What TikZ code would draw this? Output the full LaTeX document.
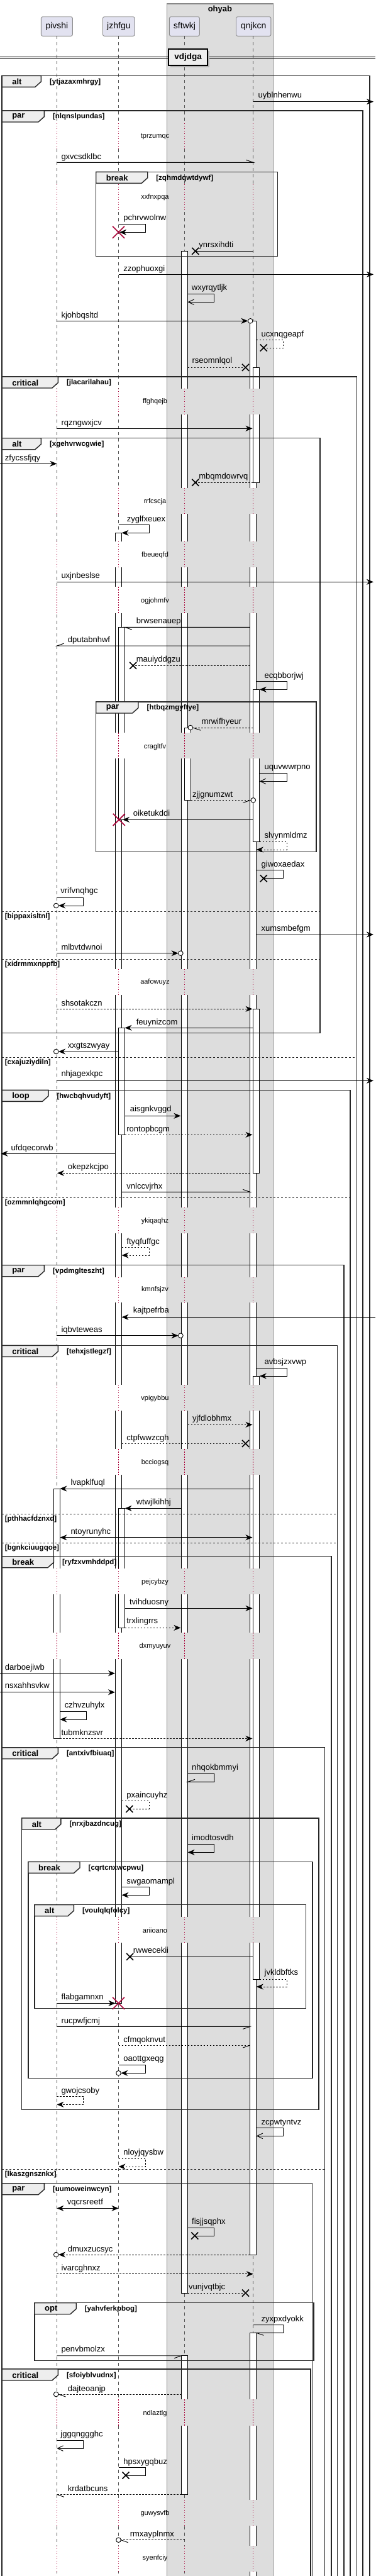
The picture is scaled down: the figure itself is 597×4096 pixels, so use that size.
\documentclass[tikz,border=0pt]{standalone}
\usepackage{fontspec}
\setmainfont{Liberation Sans}
\usetikzlibrary{arrows.meta}
\definecolor{grpfill}{HTML}{DDDDDD}
\definecolor{grpline}{HTML}{888888}
\definecolor{partfill}{HTML}{E2E2F0}
\definecolor{partline}{HTML}{8C8C8C}
\definecolor{tabfill}{HTML}{EEEEEE}
\definecolor{dkred}{HTML}{A80036}
\definecolor{lifecol}{HTML}{555555}
\newcommand\SeqFrame[8]{%
  \draw[frm] (#1,#2) rectangle (#3,#4);
  \draw[frm,fill=tabfill] (#1,#2) -- (#5,#2) -- (#5,{#2+9.5}) -- ({#5-9.5},{#2+18}) -- (#1,{#2+18}) -- cycle;
  \node[kw] (#8k) at ({#1+16},{#2+9.5}) {#6};
  \node[cnd] (#8c) at ({#5+13.5},{#2+10}) {[#7]};
}
\newcommand\SeqElse[5]{%
  \draw[els] (#1,#3) -- (#2,#3);
  \node[cnd] (#5) at ({#1+4.5},{#3+8.5}) {[#4]};
}
\newcommand\Xmark[4]{\draw[line width=1.6pt,#4] ({#1-#3},{#2-#3}) -- ({#1+#3},{#2+#3}) ({#1-#3},{#2+#3}) -- ({#1+#3},{#2-#3});}
\newcommand\Ocirc[2]{\draw[msg,fill=white] (#1,#2) circle[radius=3.8];}
\begin{document}
\begin{tikzpicture}[x=1pt,y=-1pt,
 part/.style={draw=partline, fill=partfill, rounded corners=2.5pt, line width=0.9pt, inner sep=0pt, minimum height=30.6pt, font=\fontsize{14}{16}\selectfont},
 life/.style={draw=lifecol, line width=0.7pt, dash pattern=on 5pt off 5pt},
 dlyline/.style={draw=dkred, line width=0.8pt, dash pattern=on 1.2pt off 2.8pt},
 actbar/.style={draw=black, fill=white, line width=0.9pt},
 frm/.style={draw=black!85, line width=1.4pt},
 els/.style={draw=black!85, line width=0.8pt, dash pattern=on 3pt off 3pt},
 kw/.style={font=\bfseries\fontsize{13}{15}\selectfont, anchor=west, inner sep=0pt},
 cnd/.style={font=\bfseries\fontsize{11.5}{13}\selectfont, anchor=west, inner sep=0pt},
 lbl/.style={font=\fontsize{13}{15}\selectfont, anchor=west, inner sep=0pt, text height=9.4pt, text depth=2.8pt},
 dtxt/.style={font=\fontsize{11}{13}\selectfont, inner sep=0pt},
 msg/.style={draw=black, line width=0.9pt},
 dsh/.style={msg, dash pattern=on 2.5pt off 2.5pt},
 arr/.style={-{Stealth[length=11pt,width=9pt,inset=3.5pt]}},
 arrtwo/.style={{Stealth[length=11pt,width=9pt,inset=3.5pt]}-{Stealth[length=11pt,width=9pt,inset=3.5pt]}},
 opn/.style={-{Straight Barb[length=9pt,width=8.5pt]}}
]
\useasboundingbox (0,0) rectangle (597,4096);
\fill[white] (0,0) rectangle (597,4096);
% group box
\draw[draw=grpline, fill=grpfill, line width=1.2pt] (265.1,6) rectangle (434.7,4110);
\node[font=\bfseries\fontsize{13}{15}\selectfont] (grp) at (349.9,15) {ohyab};
% participants
\node[part, minimum width=50pt] (pivshi) at (90.4,42) {pivshi};
\node[part, minimum width=50.8pt] (jzhfgu) at (188.9,42) {jzhfgu};
\node[part, minimum width=48pt] (sftwkj) at (293.4,42) {sftwkj};
\node[part, minimum width=55.4pt] (qnjkcn) at (403.2,42) {qnjkcn};
\coordinate (pE) at (90.4,4110); \coordinate (jE) at (188.5,4110);
\coordinate (sE) at (293.5,4110); \coordinate (qE) at (402.8,4110);
\coordinate (pS) at (90.4,57.3); \coordinate (jS) at (188.5,57.3);
\coordinate (sS) at (293.5,57.3); \coordinate (qS) at (402.8,57.3);
\draw[life] (pS) -- (pE); \draw[life] (jS) -- (jE);
\draw[life] (sS) -- (sE); \draw[life] (qS) -- (qE);
% divider
\draw[black, line width=0.9pt] (0,90) -- (597,90) (0,93) -- (597,93);
\fill[black!30] (270.6,80.5) rectangle (332.5,106.5);
\node[draw=black, line width=1.4pt, fill=tabfill, minimum width=61.9pt, minimum height=26pt, inner sep=0pt, font=\bfseries\fontsize{13.5}{15}\selectfont] (div) at (299.05,91) {vdjdga};
% activation bars
\draw[actbar] (85.4,2367) rectangle (95.4,2764.3);
\draw[actbar] (183.5,847.3) rectangle (193.5,3185.3);
\draw[actbar] (188.5,997.3) rectangle (198.5,1303.3);
\draw[actbar] (188.5,1634.3) rectangle (198.5,1804.3);
\draw[actbar] (188.5,2398.3) rectangle (198.5,2588.3);
\draw[actbar] (288.5,399.3) rectangle (298.5,3646);
\draw[actbar] (288.5,3745.7) rectangle (298.5,3966.3);
\draw[actbar] (293.5,1157) rectangle (303.5,1272.3);
\draw[actbar] (397.8,510.3) rectangle (407.8,3585);
\draw[actbar] (397.8,3709.3) rectangle (407.8,4110);
\draw[actbar] (402.8,584.3) rectangle (412.8,767.3);
\draw[actbar] (402.8,1096.3) rectangle (412.8,1338.3);
\draw[actbar] (402.8,1604.3) rectangle (412.8,1865.3);
\draw[actbar] (402.8,2188) rectangle (412.8,3147.3);
% delays
\foreach \ya/\yb/\yc/\tx [count=\i] in {196/237/216.7/tprzumqc, 292.5/334/313.3/xxfnxpqa, 617.7/659.3/638.7/ffghqejb, 775.7/817.3/797.3/rrfcscja, 860.7/902.3/882.3/fbeueqfd, 933.3/975/955.7/ogjohmfv, 1165.3/1206/1187.7/cragltfv, 1540.7/1582.3/1562/aafowuyz, 1920/1960.7/1941.3/ykiqaqhz, 2030.7/2071/2051/kmnfsjzv, 2202/2243/2223.7/vpigybbu, 2304.3/2345.3/2325.3/bcciogsq, 2494/2535/2515.7/pejcybzy, 2596.3/2638/2618/dxmyuyuv, 3047.7/3089/3069.3/ariioano, 3815.3/3857.3/3837.3/ndlaztlg, 3974.7/4016.3/3996.3/guwysvfb, 4047.7/4088.7/4068/syenfciy}{
  \fill[white] (83,\ya) rectangle (98.5,\yb);
  \fill[white] (181,\ya) rectangle (201,\yb);
  \fill[grpfill] (286,\ya) rectangle (306,\yb);
  \fill[grpfill] (395,\ya) rectangle (415.5,\yb);
  \draw[dlyline] (90.4,\ya) -- (90.4,\yb);
  \draw[dlyline] (188.5,\ya) -- (188.5,\yb);
  \draw[dlyline] (293.5,\ya) -- (293.5,\yb);
  \draw[dlyline] (402.8,\ya) -- (402.8,\yb);
  \node[dtxt] (dl\i) at (246.5,\yc) {\tx};
}
% frames
\SeqFrame{3.1}{120.3}{587.8}{4110}{65.4}{alt}{ytjazaxmhrgy}{fa}
\SeqFrame{3.1}{176}{577}{4110}{70.4}{par}{nlqnslpundas}{fb}
\SeqFrame{152.7}{273.3}{441.2}{407.7}{234.7}{break}{zqhmdqwtdywf}{fc}
\SeqFrame{3.1}{599}{567.4}{4110}{92.3}{critical}{jlacarilahau}{fd}
\SeqElse{3.1}{567.4}{1681.3}{cxajuziydiln}{ed}
\SeqFrame{3.1}{696.7}{508.9}{1642.7}{65.4}{alt}{xgehvrwcgwie}{fe}
\SeqElse{3.1}{508.9}{1449}{bippaxisltnl}{eea}
\SeqElse{3.1}{508.9}{1525.3}{xidrmmxnppfb}{eeb}
\SeqFrame{152.7}{1116}{502.8}{1354.3}{220}{par}{htbqzmgyftye}{ff}
\SeqFrame{3.1}{1733.3}{557}{4110}{76.9}{loop}{hwcbqhvudyft}{fg}
\SeqElse{3.1}{557}{1904.3}{ozmmnlqhgcom}{eg}
\SeqFrame{3.1}{2011.7}{547}{4110}{70.4}{par}{vpdmglteszht}{fh}
\SeqFrame{3.1}{2139.3}{536.6}{4110}{92.3}{critical}{tehxjstlegzf}{fi}
\SeqElse{3.1}{536.6}{2407.3}{pthhacfdznxd}{eia}
\SeqElse{3.1}{536.6}{2453.3}{bgnkciuugqoe}{eib}
\SeqFrame{3.1}{2474.7}{527}{4110}{85.4}{break}{ryfzxvmhddpd}{fj}
\SeqFrame{3.1}{2778.7}{516.3}{4110}{92.3}{critical}{antxivfbiuaq}{fk}
\SeqElse{3.1}{516.3}{3449}{lkaszgnsznkx}{ek}
\SeqFrame{34.6}{2891}{507}{3354.3}{96.9}{alt}{nrxjbazdncug}{fl}
\SeqFrame{45}{2960.3}{497}{3304.7}{127}{break}{cqrtcnxwcpwu}{fm}
\SeqFrame{55}{3028.7}{486.6}{3193.7}{117.3}{alt}{voulqlqfolcy}{fn}
\SeqFrame{3.1}{3471.7}{496.2}{4110}{70.4}{par}{uumoweinwcyn}{fo}
\SeqFrame{55}{3661.7}{499}{3753.3}{121.2}{opt}{yahvferkpbog}{fp}
\SeqFrame{3.1}{3767}{494}{4110}{92.3}{critical}{sfoiyblvudnx}{fq}
% messages
\coordinate (m1a) at (402.8,161.7); \coordinate (m1b) at (594,161.7);
\draw[msg,arr] (m1a) -- (m1b); \node[lbl] (t1) at (410.5,151.7) {uyblnhenwu};
\coordinate (m2a) at (90.4,258.3); \coordinate (m2b) at (402.8,258.3);
\draw[msg] (m2a) -- (m2b) -- ++(-11.5,-4); \node[lbl] (t2) at (97.3,250) {gxvcsdklbc};
\coordinate (m3a) at (188.5,356.3); \coordinate (m3b) at (190,369.3);
\draw[msg,arr] (m3a) -- (231.6,356.3) |- (m3b); \Xmark{188.5}{369.3}{9.5}{dkred}
\node[lbl] (t3) at (196.2,347) {pchrvwolnw};
\coordinate (m4a) at (402.8,399.3); \coordinate (m4b) at (310.8,399.3);
\draw[msg] (m4a) -- (m4b); \Xmark{310.8}{399.3}{5.5}{black}
\node[lbl] (t4) at (316.2,390) {ynrsxihdti};
\coordinate (m5a) at (188.5,436.3); \coordinate (m5b) at (594,436.3);
\draw[msg,arr] (m5a) -- (m5b); \node[lbl] (t5) at (196.2,427.7) {zzophuoxgi};
\coordinate (m6a) at (298.5,467.7); \coordinate (m6b) at (298.5,480.3);
\draw[msg,opn] (m6a) -- (340.8,467.7) |- (m6b); \node[lbl] (t6) at (304.7,457.7) {wxyrqytljk};
\coordinate (m7a) at (90.4,510.3); \coordinate (m7b) at (394.4,510.3);
\draw[msg,arr] (m7a) -- (m7b); \Ocirc{398.2}{510.3} \node[lbl] (t7) at (97.3,502) {kjohbqsltd};
\coordinate (m8a) at (407.8,540.7); \coordinate (m8b) at (419.3,553);
\draw[dsh] (m8a) -- (450.9,540.7) |- (m8b); \Xmark{419.3}{553}{5.5}{black}
\node[lbl] (t8) at (415.5,532) {ucxnqgeapf};
\coordinate (m9a) at (298.5,584.3); \coordinate (m9b) at (390.5,584.3);
\draw[dsh] (m9a) -- (m9b); \Xmark{390.5}{584.3}{5.5}{black}
\node[lbl] (t9) at (305.4,574.3) {rseomnlqol};
\coordinate (m10a) at (90.4,681.3); \coordinate (m10b) at (401.5,681.3);
\draw[msg,arr] (m10a) -- (m10b); \node[lbl] (t10) at (97.3,673) {rqzngwxjcv};
\coordinate (m11a) at (0,737.3); \coordinate (m11b) at (90.4,737.3);
\draw[msg,arr] (m11a) -- (m11b); \node[lbl] (t11) at (7.7,729) {zfycssfjqy};
\coordinate (m12a) at (402.8,767.3); \coordinate (m12b) at (310.8,767.3);
\draw[dsh] (m12a) -- (m12b); \Xmark{310.8}{767.3}{5.5}{black}
\node[lbl] (t12) at (316.2,758) {mbqmdowrvq};
\coordinate (m13a) at (188.5,834.7); \coordinate (m13b) at (193.5,847.3);
\draw[msg,arr] (m13a) -- (237,834.7) |- (m13b); \node[lbl] (t13) at (201.6,825.7) {zyglfxeuex};
\coordinate (m14a) at (90.4,925.3); \coordinate (m14b) at (594,925.3);
\draw[msg,arr] (m14a) -- (m14b); \node[lbl] (t14) at (97.3,915.7) {uxjnbeslse};
\coordinate (m15a) at (397.8,997.3); \coordinate (m15b) at (198.5,997.3);
\draw[msg] (m15a) -- (m15b) -- ++(11.5,4); \node[lbl] (t15) at (216.6,988.3) {brwsenauep};
\coordinate (m16a) at (397.8,1027); \coordinate (m16b) at (90.4,1027);
\draw[msg] (m16a) -- (m16b) -- ++(11.5,-4); \node[lbl] (t16) at (107.7,1018.3) {dputabnhwf};
\coordinate (m17a) at (397.8,1058.3); \coordinate (m17b) at (211.6,1058.3);
\draw[dsh] (m17a) -- (m17b); \Xmark{211.6}{1058.3}{5.5}{black}
\node[lbl] (t17) at (216.6,1048.7) {mauiyddgzu};
\coordinate (m18a) at (407.8,1083.7); \coordinate (m18b) at (412.8,1096.3);
\draw[msg,arr] (m18a) -- (456.2,1083.7) |- (m18b); \node[lbl] (t18) at (420.5,1075) {ecqbborjwj};
\coordinate (m19a) at (402.8,1157); \coordinate (m19b) at (306.6,1157);
\draw[dsh] (m19a) -- (m19b); \Ocirc{302.8}{1157} \draw[msg] (m19b) -- ++(12.5,4.3);
\node[lbl] (t19) at (320.5,1147.7) {mrwifhyeur};
\coordinate (m20a) at (412.8,1229.7); \coordinate (m20b) at (412.8,1242.3);
\draw[msg,opn] (m20a) -- (456.2,1229.7) |- (m20b); \node[lbl] (t20) at (420.5,1220) {uquvwwrpno};
\coordinate (m21a) at (303.5,1272.3); \coordinate (m21b) at (399,1272.3);
\draw[dsh] (m21a) -- (m21b); \Ocirc{402.8}{1272.3} \draw[msg] (m21b) -- ++(-12.5,4);
\node[lbl] (t21) at (305.8,1263.7) {zjjgnumzwt};
\coordinate (m22a) at (402.8,1303.3); \coordinate (m22b) at (195,1303.3);
\draw[msg,arr] (m22a) -- (m22b); \Xmark{189.3}{1303.3}{9.5}{dkred}
\node[lbl] (t22) at (211.6,1293.7) {oiketukddi};
\coordinate (m23a) at (412.8,1338.3); \coordinate (m23b) at (407.8,1351);
\draw[dsh,arr] (m23a) -- (456.2,1338.3) |- (m23b); \node[lbl] (t23) at (420.5,1329.3) {slvynmldmz};
\coordinate (m24a) at (407.8,1383.7); \coordinate (m24b) at (419.3,1396.7);
\draw[msg] (m24a) -- (450.9,1383.7) |- (m24b); \Xmark{419.3}{1396.7}{5.5}{black}
\node[lbl] (t24) at (415.5,1374.7) {giwoxaedax};
\coordinate (m25a) at (90.4,1427.3); \coordinate (m25b) at (93,1440);
\draw[msg,arr] (m25a) -- (132.7,1427.3) |- (m25b); \Ocirc{89.2}{1440}
\node[lbl] (t25) at (96.2,1417.3) {vrifvnqhgc};
\coordinate (m26a) at (407.8,1486); \coordinate (m26b) at (594,1486);
\draw[msg,arr] (m26a) -- (m26b); \node[lbl] (t26) at (415.5,1476.7) {xumsmbefgm};
\coordinate (m27a) at (90.4,1515.7); \coordinate (m27b) at (283.6,1515.7);
\draw[msg,arr] (m27a) -- (m27b); \Ocirc{287.4}{1515.7} \node[lbl] (t27) at (97.3,1507.3) {mlbvtdwnoi};
\coordinate (m28a) at (90.4,1604.3); \coordinate (m28b) at (401.5,1604.3);
\draw[dsh,arr] (m28a) -- (m28b); \node[lbl] (t28) at (97.3,1595.7) {shsotakczn};
\coordinate (m29a) at (402.8,1634.3); \coordinate (m29b) at (198.5,1634.3);
\draw[msg,arr] (m29a) -- (m29b); \node[lbl] (t29) at (216.6,1625.7) {feuynizcom};
\coordinate (m30a) at (188.5,1672); \coordinate (m30b) at (93,1672);
\draw[msg,arr] (m30a) -- (m30b); \Ocirc{89.2}{1672} \node[lbl] (t30) at (107.7,1663) {xxgtszwyay};
\coordinate (m31a) at (90.4,1718.3); \coordinate (m31b) at (594,1718.3);
\draw[msg,arr] (m31a) -- (m31b); \node[lbl] (t31) at (97.3,1708) {nhjagexkpc};
\coordinate (m32a) at (198.5,1774.3); \coordinate (m32b) at (287.4,1774.3);
\draw[msg,arr] (m32a) -- (m32b); \node[lbl] (t32) at (206.6,1764.3) {aisgnkvggd};
\coordinate (m33a) at (198.5,1804.3); \coordinate (m33b) at (401.5,1804.3);
\draw[dsh,arr] (m33a) -- (m33b); \node[lbl] (t33) at (201.2,1795.7) {rontopbcgm};
\coordinate (m34a) at (183.5,1834.3); \coordinate (m34b) at (1.5,1834.3);
\draw[msg,arr] (m34a) -- (m34b); \node[lbl] (t34) at (17.3,1825.7) {ufdqecorwb};
\coordinate (m35a) at (397.8,1865.3); \coordinate (m35b) at (91,1865.3);
\draw[dsh,arr] (m35a) -- (m35b); \node[lbl] (t35) at (107.7,1855.7) {okepzkcjpo};
\coordinate (m36a) at (193.5,1895.3); \coordinate (m36b) at (397.8,1895.3);
\draw[msg] (m36a) -- (m36b) -- ++(-11.5,-4); \node[lbl] (t36) at (201.2,1886.7) {vnlccvjrhx};
\coordinate (m37a) at (193.5,1983.3); \coordinate (m37b) at (193.5,1996);
\draw[dsh,arr] (m37a) -- (237,1983.3) |- (m37b); \node[lbl] (t37) at (201.2,1975) {ftyqfuffgc};
\coordinate (m38a) at (597,2094.3); \coordinate (m38b) at (193.5,2094.3);
\draw[msg,arr] (m38a) -- (m38b); \node[lbl] (t38) at (211.6,2084.3) {kajtpefrba};
\coordinate (m39a) at (90.4,2123.7); \coordinate (m39b) at (283.6,2123.7);
\draw[msg,arr] (m39a) -- (m39b); \Ocirc{287.4}{2123.7} \node[lbl] (t39) at (97.3,2115.3) {iqbvteweas};
\coordinate (m40a) at (407.8,2175.3); \coordinate (m40b) at (412.8,2188);
\draw[msg,arr] (m40a) -- (456.2,2175.3) |- (m40b); \node[lbl] (t40) at (420.5,2166) {avbsjzxvwp};
\coordinate (m41a) at (298.5,2265.3); \coordinate (m41b) at (401.5,2265.3);
\draw[dsh,arr] (m41a) -- (m41b); \node[lbl] (t41) at (305.8,2256.3) {yjfdlobhmx};
\coordinate (m42a) at (193.5,2295.3); \coordinate (m42b) at (390.5,2295.3);
\draw[dsh] (m42a) -- (m42b); \Xmark{390.5}{2295.3}{5.5}{black}
\node[lbl] (t42) at (201.2,2287) {ctpfwwzcgh};
\coordinate (m43a) at (402.8,2367); \coordinate (m43b) at (95.4,2367);
\draw[msg,arr] (m43a) -- (m43b); \node[lbl] (t43) at (112.3,2358) {lvapklfuql};
\coordinate (m44a) at (288.5,2398.3); \coordinate (m44b) at (198.5,2398.3);
\draw[msg,arr] (m44a) -- (m44b); \node[lbl] (t44) at (216.6,2388.7) {wtwjlkihhj};
\coordinate (m45a) at (95.4,2444.7); \coordinate (m45b) at (401.5,2444.7);
\draw[msg,arrtwo] (m45a) -- (m45b); \node[lbl] (t45) at (112.3,2435.7) {ntoyrunyhc};
\coordinate (m46a) at (198.5,2557.3); \coordinate (m46b) at (401.5,2557.3);
\draw[msg,arr] (m46a) -- (m46b); \node[lbl] (t46) at (205.8,2548.3) {tvihduosny};
\coordinate (m47a) at (198.5,2588.3); \coordinate (m47b) at (287.4,2588.3);
\draw[dsh,arr] (m47a) -- (m47b); \node[lbl] (t47) at (201.2,2578.3) {trxlingrrs};
\coordinate (m48a) at (0,2660.7); \coordinate (m48b) at (183,2660.7);
\draw[msg,arr] (m48a) -- (m48b); \node[lbl] (t48) at (7.7,2651.7) {darboejiwb};
\coordinate (m49a) at (0,2690.7); \coordinate (m49b) at (183,2690.7);
\draw[msg,arr] (m49a) -- (m49b); \node[lbl] (t49) at (7.7,2681.3) {nsxahhsvkw};
\coordinate (m50a) at (95.4,2721.7); \coordinate (m50b) at (95.4,2734);
\draw[msg,arr] (m50a) -- (137.7,2721.7) |- (m50b); \node[lbl] (t50) at (102.7,2711.7) {czhvzuhylx};
\coordinate (m51a) at (95.4,2764.3); \coordinate (m51b) at (401.5,2764.3);
\draw[dsh,arr] (m51a) -- (m51b); \node[lbl] (t51) at (97.3,2756) {tubmknzsvr};
\coordinate (m52a) at (298.5,2820.3); \coordinate (m52b) at (298.5,2833.3);
\draw[msg] (m52a) -- (340.8,2820.3) |- (m52b) -- ++(11.5,-4); \node[lbl] (t52) at (305,2811) {nhqokbmmyi};
\coordinate (m53a) at (193.5,2863.3); \coordinate (m53b) at (205.8,2876.3);
\draw[dsh] (m53a) -- (237,2863.3) |- (m53b); \Xmark{205.8}{2876.3}{5.5}{black}
\node[lbl] (t53) at (201.2,2854.7) {pxaincuyhz};
\coordinate (m54a) at (298.5,2932.7); \coordinate (m54b) at (298.5,2945.3);
\draw[msg,arr] (m54a) -- (340.8,2932.7) |- (m54b); \node[lbl] (t54) at (305,2922.7) {imodtosvdh};
\coordinate (m55a) at (193.5,3000.7); \coordinate (m55b) at (193.5,3013.3);
\draw[msg,arr] (m55a) -- (237,3000.7) |- (m55b); \node[lbl] (t55) at (201.2,2992) {swgaomampl};
\coordinate (m56a) at (402.8,3111.3); \coordinate (m56b) at (206.6,3111.3);
\draw[msg] (m56a) -- (m56b); \Xmark{206.6}{3111.3}{5.5}{black}
\node[lbl] (t56) at (211.6,3102) {rwwecekii};
\coordinate (m57a) at (412.8,3147); \coordinate (m57b) at (407.8,3159);
\draw[dsh,arr] (m57a) -- (456.2,3147) |- (m57b); \node[lbl] (t57) at (420.5,3137.3) {jvkldbftks};
\coordinate (m58a) at (90.4,3185.3); \coordinate (m58b) at (183.5,3185.3);
\draw[msg,arr] (m58a) -- (m58b); \Xmark{188.5}{3185.3}{9.5}{dkred}
\node[lbl] (t58) at (97.3,3175.7) {flabgamnxn};
\coordinate (m59a) at (90.4,3222.3); \coordinate (m59b) at (397.8,3222.3);
\draw[msg] (m59a) -- (m59b) -- ++(-11.5,4); \node[lbl] (t59) at (97.3,3214) {rucpwfjcmj};
\coordinate (m60a) at (188.5,3252); \coordinate (m60b) at (397.8,3252);
\draw[dsh] (m60a) -- (m60b); \draw[msg] (m60b) -- ++(-11.5,4); \node[lbl] (t60) at (196.2,3243.7) {cfmqoknvut};
\coordinate (m61a) at (188.5,3283.7); \coordinate (m61b) at (192.3,3296.3);
\draw[msg,arr] (m61a) -- (231.6,3283.7) |- (m61b); \Ocirc{188.5}{3296.3}
\node[lbl] (t61) at (196.2,3274) {oaottgxeqg};
\coordinate (m62a) at (90.4,3333.7); \coordinate (m62b) at (90.4,3346.3);
\draw[dsh,arr] (m62a) -- (132.7,3333.7) |- (m62b); \node[lbl] (t62) at (97.3,3325) {gwojcsoby};
\coordinate (m63a) at (407.8,3383.3); \coordinate (m63b) at (407.8,3396.3);
\draw[msg,opn] (m63a) -- (450.9,3383.3) |- (m63b); \node[lbl] (t63) at (415.5,3374.7) {zcpwtyntvz};
\coordinate (m64a) at (188.5,3432.3); \coordinate (m64b) at (188.5,3445);
\draw[dsh,arr] (m64a) -- (231.6,3432.3) |- (m64b); \node[lbl] (t64) at (196.2,3423.3) {nloyjqysbw};
\coordinate (m65a) at (90.4,3511.3); \coordinate (m65b) at (188.5,3511.3);
\draw[msg,arrtwo] (m65a) -- (m65b); \node[lbl] (t65) at (106.6,3502.3) {vqcrsreetf};
\coordinate (m66a) at (298.5,3542.3); \coordinate (m66b) at (309.7,3555);
\draw[msg] (m66a) -- (340.8,3542.3) |- (m66b); \Xmark{309.7}{3555}{5.5}{black}
\node[lbl] (t66) at (305,3533.3) {fisjjsqphx};
\coordinate (m67a) at (397.8,3585); \coordinate (m67b) at (93,3585);
\draw[dsh,arr] (m67a) -- (m67b); \Ocirc{89.2}{3585} \node[lbl] (t67) at (107.7,3576.7) {dmuxzucsyc};
\coordinate (m68a) at (90.4,3615.7); \coordinate (m68b) at (402.8,3615.7);
\draw[dsh,arr] (m68a) -- (m68b); \node[lbl] (t68) at (97.3,3606.7) {ivarcghnxz};
\coordinate (m69a) at (298.5,3646); \coordinate (m69b) at (390.5,3646);
\draw[dsh] (m69a) -- (m69b); \Xmark{390.5}{3646}{5.5}{black}
\node[lbl] (t69) at (300,3636.7) {vunjvqtbjc};
\coordinate (m70a) at (402.8,3696.7); \coordinate (m70b) at (407.8,3709.3);
\draw[msg] (m70a) -- (450.9,3696.7) |- (m70b) -- ++(11.5,4); \node[lbl] (t70) at (415.5,3687.7) {zyxpxdyokk};
\coordinate (m71a) at (90.4,3745.7); \coordinate (m71b) at (288.5,3745.7);
\draw[msg] (m71a) -- (m71b) -- ++(-11.5,4); \node[lbl] (t71) at (97.3,3736) {penvbmolzx};
\coordinate (m72a) at (288.5,3807); \coordinate (m72b) at (93,3807);
\draw[dsh] (m72a) -- (m72b); \Ocirc{89.2}{3807} \draw[msg] (m72b) -- ++(11.5,4);
\node[lbl] (t72) at (107.7,3798.7) {dajteoanjp};
\coordinate (m73a) at (90.4,3880.3); \coordinate (m73b) at (90.4,3893);
\draw[msg,opn] (m73a) -- (132.7,3880.3) |- (m73b); \node[lbl] (t73) at (96.2,3871) {jggqnggghc};
\coordinate (m74a) at (188.5,3923.7); \coordinate (m74b) at (200,3936);
\draw[msg] (m74a) -- (231.6,3923.7) |- (m74b); \Xmark{200}{3936}{5.5}{black}
\node[lbl] (t74) at (196.2,3914.7) {hpsxygqbuz};
\coordinate (m75a) at (288.5,3966.3); \coordinate (m75b) at (90.4,3966.3);
\draw[dsh] (m75a) -- (m75b); \draw[msg] (m75b) -- ++(11.5,4); \node[lbl] (t75) at (107.7,3957.7) {krdatbcuns};
\coordinate (m76a) at (293.5,4038.7); \coordinate (m76b) at (192.3,4038.7);
\draw[dsh] (m76a) -- (m76b); \Ocirc{188.5}{4038.7} \draw[msg] (m76b) -- ++(11.5,4);
\node[lbl] (t76) at (206.6,4029.7) {rmxayplnmx};
\end{tikzpicture}
\end{document}
